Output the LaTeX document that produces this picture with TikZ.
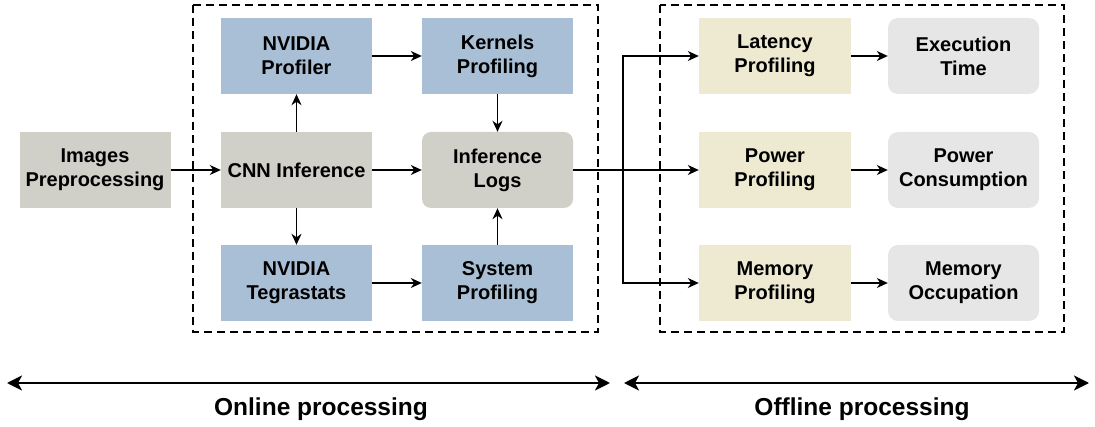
\documentclass[tikz,border=0pt]{standalone}
\usepackage{fontspec}
\setmainfont{Liberation Sans}
\usetikzlibrary{arrows.meta}

\definecolor{profblue}{HTML}{A9BFD5}
\definecolor{stagegray}{HTML}{D0D0C8}
\definecolor{offyellow}{HTML}{EEEAD2}
\definecolor{resgray}{HTML}{E6E6E6}

\begin{document}
\begin{tikzpicture}[x=1pt,y=-1pt,
    box/.style={minimum width=151pt, minimum height=76pt, inner sep=0pt,
        align=center, font=\bfseries\fontsize{20}{24}\selectfont},
    conn/.style={-{Stealth[length=11pt,width=10pt,inset=3.5pt]}, line width=1.4pt},
    span/.style={{Stealth[length=15pt,width=15pt,inset=4pt]}-{Stealth[length=15pt,width=15pt,inset=4pt]}, line width=2.6pt},
    frame/.style={line width=2.3pt, dash pattern=on 8pt off 5pt}]
    \useasboundingbox (0,0) rectangle (1095,427);

    % online part
    \node[box, fill=stagegray] (imgprep) at (95,170) {Images\\Preprocessing};
    \node[box, fill=stagegray] (cnn) at (296.5,170) {CNN Inference};
    \node[box, fill=profblue] (nvprof) at (296.5,56) {NVIDIA\\Profiler};
    \node[box, fill=profblue] (kernels) at (497.5,56) {Kernels\\Profiling};
    \node[box, fill=stagegray, rounded corners=9pt] (logs) at (497.5,170) {Inference\\Logs};
    \node[box, fill=profblue] (tegra) at (296.5,283) {NVIDIA\\Tegrastats};
    \node[box, fill=profblue] (sysprof) at (497.5,283) {System\\Profiling};

    % offline part
    \node[box, fill=offyellow, minimum width=152pt] (latency) at (775,56) {Latency\\Profiling};
    \node[box, fill=offyellow, minimum width=152pt] (power) at (775,170) {Power\\Profiling};
    \node[box, fill=offyellow, minimum width=152pt] (memory) at (775,283) {Memory\\Profiling};
    \node[box, fill=resgray, rounded corners=10pt] (exectime) at (963.5,56) {Execution\\Time};
    \node[box, fill=resgray, rounded corners=10pt] (powercons) at (963.5,170) {Power\\Consumption};
    \node[box, fill=resgray, rounded corners=10pt] (memocc) at (963.5,283) {Memory\\Occupation};

    \draw[frame] (193,5) rectangle (598,332);
    \draw[frame] (660,5) rectangle (1064,332);

    \draw[conn] (imgprep) -- (cnn);
    \draw[conn] (cnn) -- (nvprof);
    \draw[conn] (cnn) -- (tegra);
    \draw[conn] (cnn) -- (logs);
    \draw[conn] (nvprof) -- (kernels);
    \draw[conn] (kernels) -- (logs);
    \draw[conn] (tegra) -- (sysprof);
    \draw[conn] (sysprof) -- (logs);

    \coordinate (split) at (623,170);
    \draw[conn] (logs) -- (power);
    \draw[conn] (split) |- (latency);
    \draw[conn] (split) |- (memory);
    \draw[conn] (latency) -- (exectime);
    \draw[conn] (power) -- (powercons);
    \draw[conn] (memory) -- (memocc);

    % processing spans
    \coordinate (on1) at (7,383);
    \coordinate (on2) at (610,383);
    \coordinate (off1) at (624,383);
    \coordinate (off2) at (1089,383);
    \draw[span] (on1) -- (on2);
    \draw[span] (off1) -- (off2);
    \node[font=\bfseries\fontsize{24.5}{29}\selectfont] (online) at (321,409) {Online processing};
    \node[font=\bfseries\fontsize{24.5}{29}\selectfont] (offline) at (862,409) {Offline processing};
\end{tikzpicture}
\end{document}
